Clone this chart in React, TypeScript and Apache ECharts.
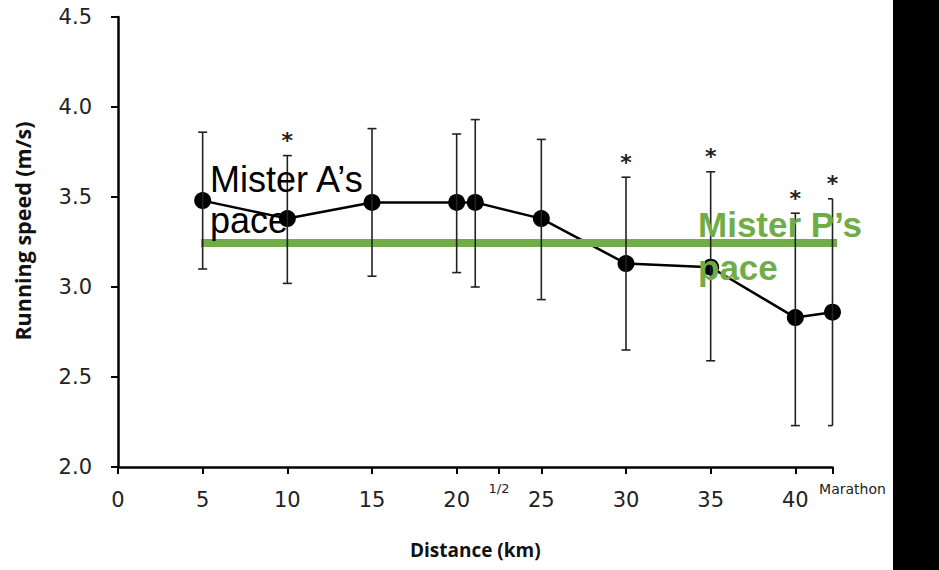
import React, { useEffect, useRef } from "react";
import * as echarts from "echarts";

// ---- data ----
const distances = [5, 10, 15, 20, 21.0975, 25, 30, 35, 40, 42.195];
const speeds = [3.48, 3.38, 3.47, 3.47, 3.47, 3.38, 3.13, 3.11, 2.83, 2.86];
const upperBars = [3.86, 3.73, 3.88, 3.85, 3.93, 3.82, 3.61, 3.64, 3.41, 3.49];
const lowerBars = [3.10, 3.02, 3.06, 3.08, 3.00, 2.93, 2.65, 2.59, 2.23, 2.23];
const significant = [false, true, false, false, false, false, true, true, true, true];

const misterPPace = 3.245;
const misterPRange = [4.9, 42.55];

const xTickValues = [0, 5, 10, 15, 20, 25, 30, 35, 40];
const specialTickValues = [22.5, 42.195];
const specialTickLabels = ["1/2", "Marathon"];
const yMin = 2.0;
const yMax = 4.5;
const yInterval = 0.5;
const xMin = 0;
const xMax = 42.195;

const GREEN = "#70AD47";

export default function App() {
  const ref = useRef<HTMLDivElement>(null);

  useEffect(() => {
    if (!ref.current) return;
    const chart = echarts.init(ref.current, undefined, { renderer: "svg" });

    const errData = distances.map((d, i) => [d, lowerBars[i], upperBars[i], i]);
    const starData = distances
      .map((d, i) => [d, upperBars[i], i])
      .filter((_, i) => significant[i]);

    const lastIdx = distances.length - 1;

    const option: any = {
      animation: false,
      backgroundColor: "#fff",
      grid: { left: 118, right: 106.5, top: 17, bottom: 103, containLabel: false },
      xAxis: [
        {
          type: "value",
          min: xMin,
          max: xMax,
          position: "bottom",
          name: "Distance (km)",
          nameLocation: "middle",
          nameGap: 73,
          nameTextStyle: {
            fontFamily: "Open Sans",
            fontWeight: "bold",
            fontSize: 19,
            color: "#111",
          },
          axisLine: { show: true, onZero: false, lineStyle: { color: "#000", width: 2.5 } },
          axisTick: {
            show: true,
            length: 7,
            inside: false,
            customValues: [...xTickValues, ...specialTickValues],
            lineStyle: { color: "#000", width: 2 },
          },
          axisLabel: {
            customValues: xTickValues,
            margin: 22,
            fontFamily: "DejaVu Sans",
            fontSize: 21,
            color: "#222",
          },
          splitLine: { show: false },
        },
        {
          type: "value",
          min: xMin,
          max: xMax,
          position: "bottom",
          axisLine: { show: false },
          axisTick: { show: false },
          axisLabel: {
            customValues: specialTickValues,
            margin: 15,
            formatter: (v: number) => {
              const i = specialTickValues.findIndex((s) => Math.abs(s - v) < 1e-6);
              if (i === 1) return "{m|" + specialTickLabels[i] + "}";
              return "{h|" + (specialTickLabels[i] ?? "") + "}";
            },
            rich: {
              h: { fontFamily: "DejaVu Sans", fontSize: 13, color: "#222" },
              m: {
                fontFamily: "DejaVu Sans",
                fontSize: 14,
                color: "#222",
                padding: [0, 0, 0, 40],
              },
            },
          },
          splitLine: { show: false },
        },
      ],
      yAxis: {
        type: "value",
        min: yMin,
        max: yMax,
        interval: yInterval,
        axisLine: { show: true, lineStyle: { color: "#000", width: 2.5 } },
        axisTick: { show: true, length: 7, lineStyle: { color: "#000", width: 2 } },
        axisLabel: {
          margin: 26,
          fontFamily: "DejaVu Sans",
          fontSize: 21,
          color: "#222",
          formatter: (v: number) => v.toFixed(1),
        },
        splitLine: { show: false },
      },
      series: [
        {
          type: "line",
          name: "Mister A",
          data: distances.map((d, i) => [d, speeds[i]]),
          symbol: "circle",
          symbolSize: 17,
          itemStyle: { color: "#000" },
          lineStyle: { color: "#000", width: 2.5 },
          z: 2,
        },
        {
          type: "line",
          name: "Mister P",
          data: misterPRange.map((d) => [d, misterPPace]),
          symbol: "none",
          clip: false,
          lineStyle: { color: GREEN, width: 8, cap: "butt" },
          z: 3,
        },
        {
          type: "custom",
          name: "errors",
          data: errData,
          z: 4,
          clip: false,
          renderItem: (params: any, api: any) => {
            const x = api.value(0);
            const lo = api.coord([x, api.value(1)]);
            const hi = api.coord([x, api.value(2)]);
            const idx = api.value(3);
            const hw = 4.5;
            const capL = hw;
            const capR = idx === lastIdx ? 0 : hw;
            const style = { stroke: "#222", lineWidth: 1.6 };
            return {
              type: "group",
              children: [
                { type: "line", shape: { x1: hi[0], y1: hi[1], x2: lo[0], y2: lo[1] }, style },
                { type: "line", shape: { x1: hi[0] - capL, y1: hi[1], x2: hi[0] + capR, y2: hi[1] }, style },
                { type: "line", shape: { x1: lo[0] - capL, y1: lo[1], x2: lo[0] + capR, y2: lo[1] }, style },
              ],
            };
          },
        },
        {
          type: "custom",
          name: "stars",
          data: starData,
          z: 5,
          clip: false,
          renderItem: (params: any, api: any) => {
            const p = api.coord([api.value(0), api.value(1)]);
            return {
              type: "text",
              x: p[0],
              y: p[1] - 15,
              style: {
                text: "*",
                fontFamily: "DejaVu Sans",
                fontWeight: "bold",
                fontSize: 22,
                fill: "#222",
                align: "center",
                verticalAlign: "middle",
              },
            };
          },
        },
      ],
      graphic: [
        {
          type: "rect",
          shape: { x: 893, y: 0, width: 46, height: 570 },
          style: { fill: "#000" },
          z: 10,
        },
        {
          type: "text",
          x: 22,
          y: 231,
          rotation: Math.PI / 2,
          style: {
            text: "Running speed (m/s)",
            fontFamily: "Open Sans",
            fontWeight: "bold",
            fontSize: 21.5,
            fill: "#111",
            align: "center",
            verticalAlign: "middle",
          },
          z: 6,
        },
        {
          type: "text",
          x: 210,
          y: 179,
          style: {
            text: "Mister A’s",
            fontFamily: "Liberation Sans",
            fontSize: 36,
            fill: "#000",
            verticalAlign: "middle",
          },
          z: 6,
        },
        {
          type: "text",
          x: 210,
          y: 220,
          style: {
            text: "pace",
            fontFamily: "Liberation Sans",
            fontSize: 36,
            fill: "#000",
            verticalAlign: "middle",
          },
          z: 6,
        },
        {
          type: "text",
          x: 698,
          y: 224,
          style: {
            text: "Mister P’s",
            fontFamily: "Liberation Sans",
            fontWeight: "bold",
            fontSize: 35,
            fill: GREEN,
            verticalAlign: "middle",
          },
          z: 6,
        },
        {
          type: "text",
          x: 698,
          y: 267,
          style: {
            text: "pace",
            fontFamily: "Liberation Sans",
            fontWeight: "bold",
            fontSize: 35,
            fill: GREEN,
            verticalAlign: "middle",
          },
          z: 6,
        },
      ],
    };

    chart.setOption(option);
    return () => chart.dispose();
  }, []);

  return (
    <div
      ref={ref}
      style={{
        position: "fixed",
        left: 0,
        top: 0,
        width: 939,
        height: 570,
        background: "#fff",
      }}
    />
  );
}
